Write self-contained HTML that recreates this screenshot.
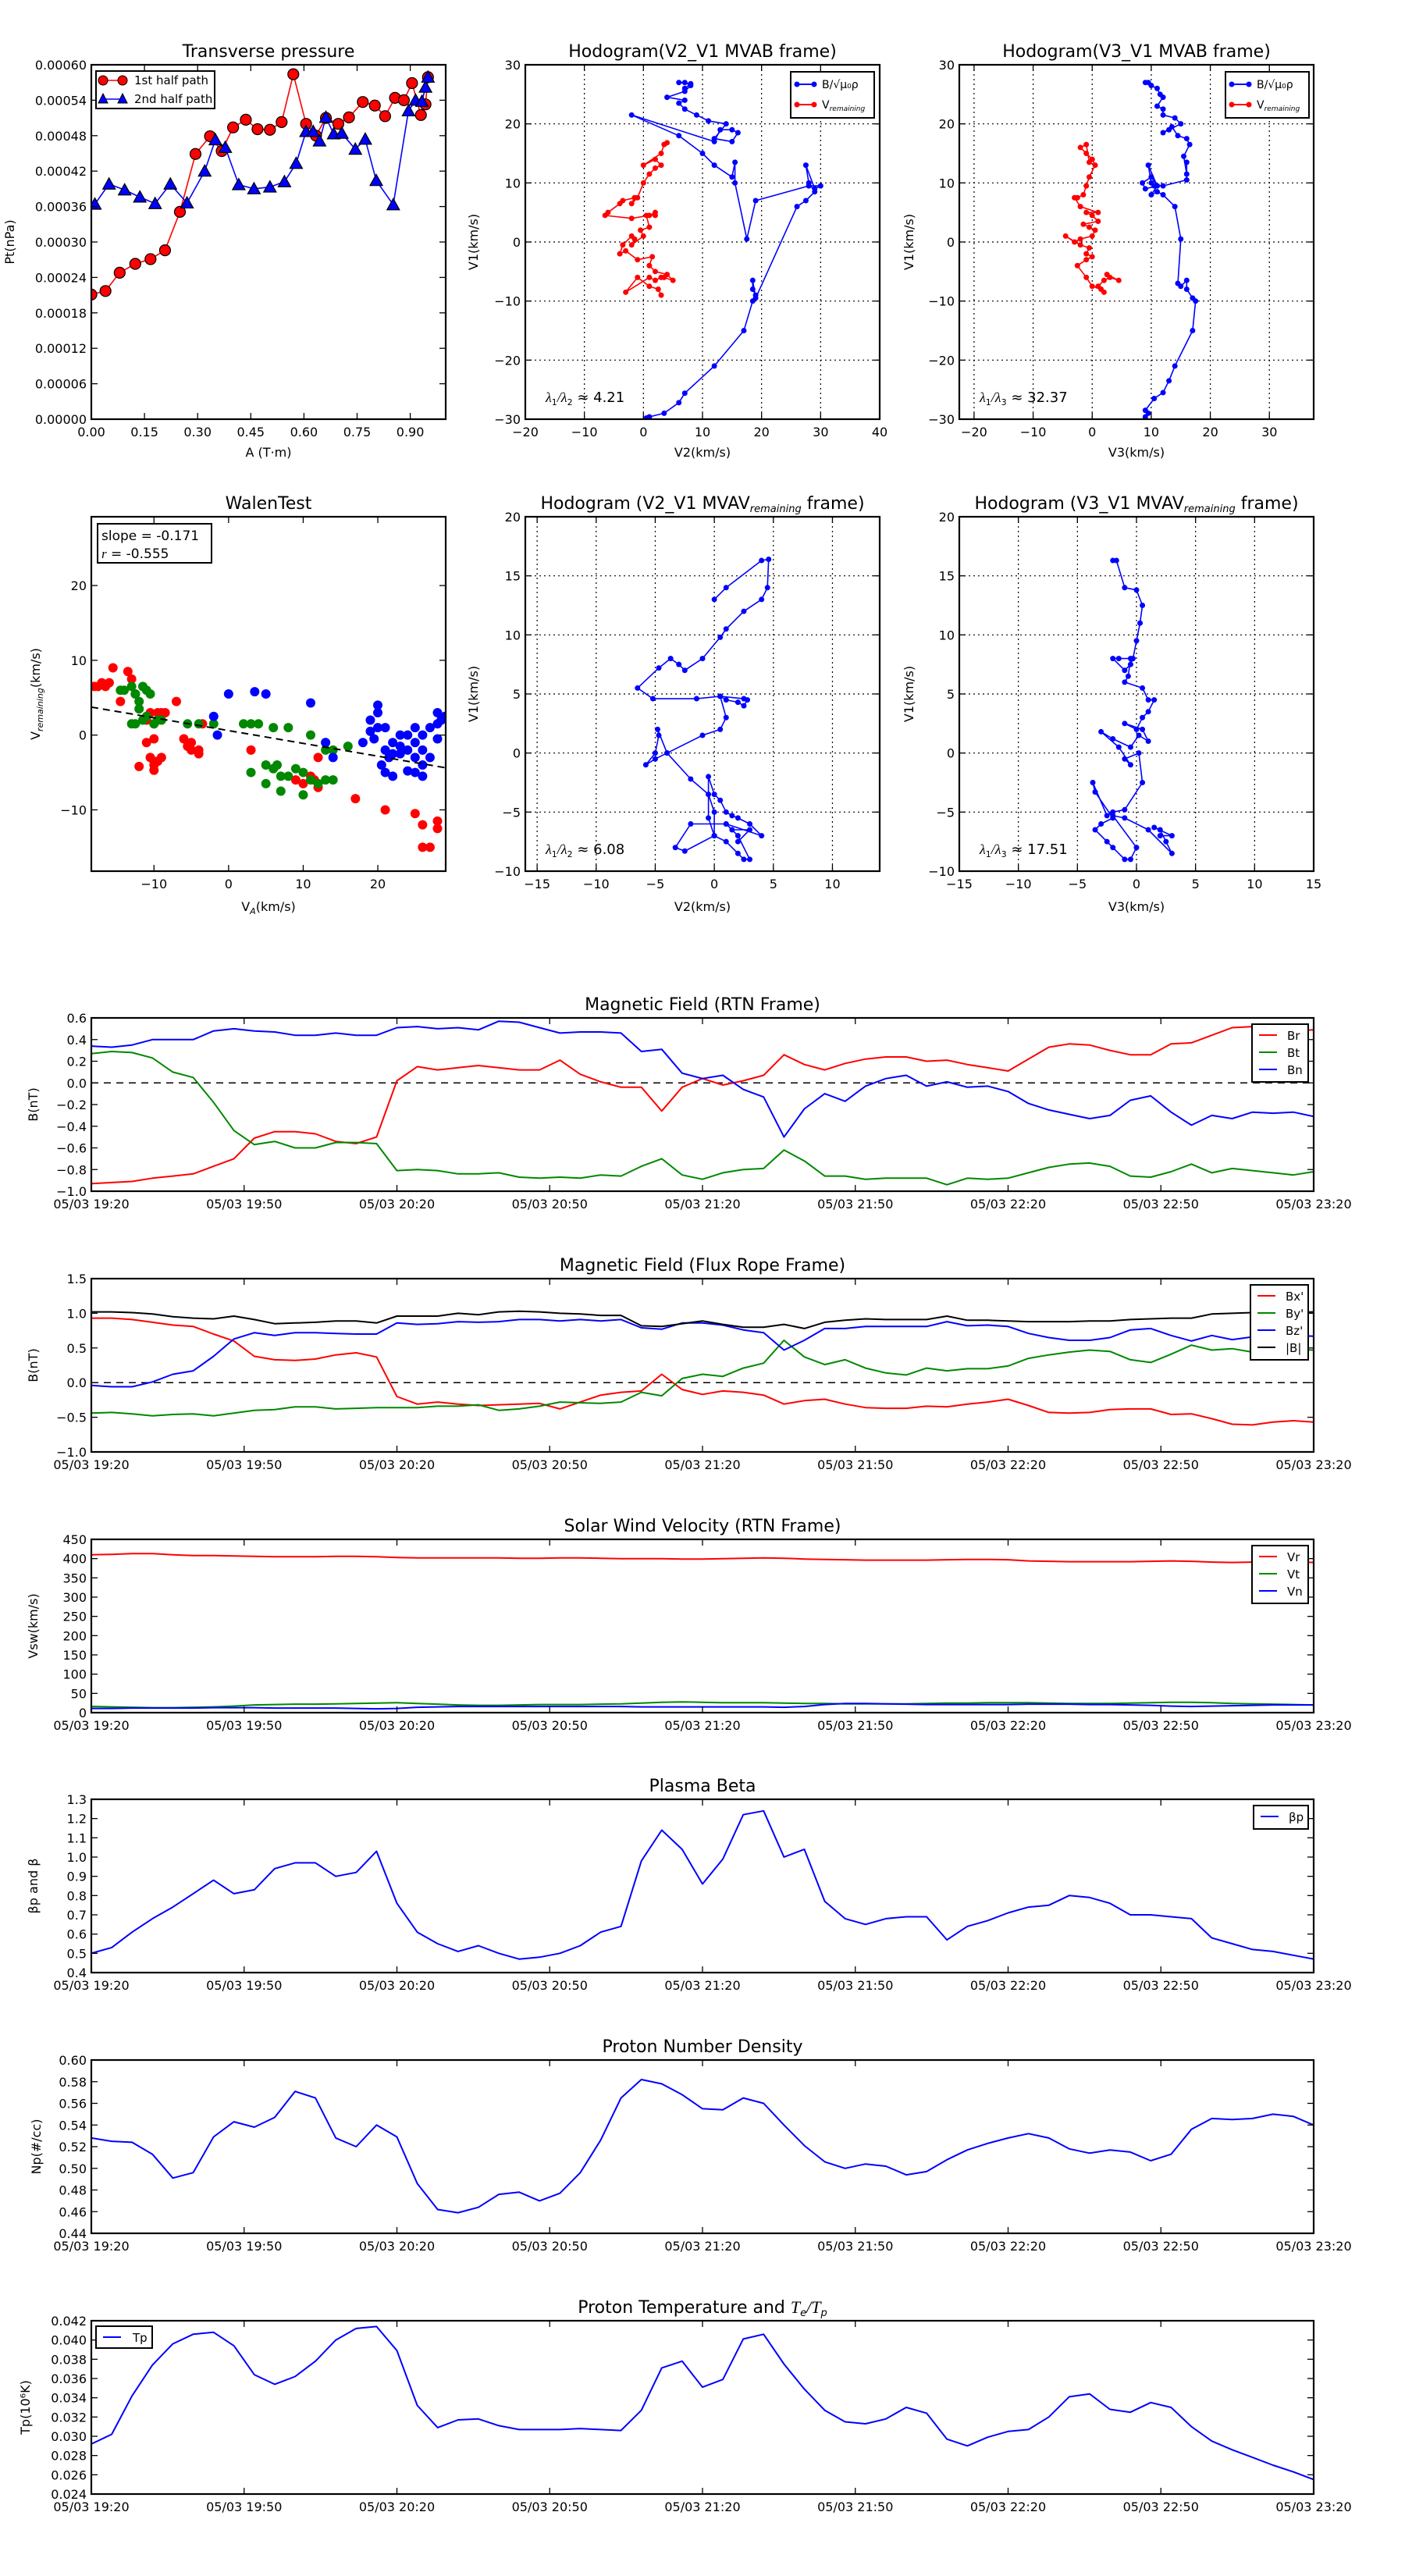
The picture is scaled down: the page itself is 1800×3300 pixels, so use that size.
<!DOCTYPE html>
<html><head><meta charset="utf-8"><style>
body{margin:0;background:#fff}
svg{display:block;font-family:"DejaVu Sans","Liberation Sans",sans-serif}
</style></head><body>
<svg id="fig" xmlns="http://www.w3.org/2000/svg" width="1800" height="3300" viewBox="0 0 1800 3300"></svg>
<script>
// ---------- data ----------
const ptA1=[0,0.04,0.08,0.124,0.167,0.208,0.25,0.294,0.335,0.368,0.40,0.436,0.469,0.504,0.537,0.57,0.606,0.634,0.662,0.697,0.727,0.766,0.80,0.829,0.857,0.882,0.905,0.93,0.943,0.95];
const ptP1=[0.000211,0.000217,0.000248,0.000263,0.000271,0.000286,0.000351,0.000449,0.000479,0.000454,0.000494,0.000507,0.000491,0.000490,0.000503,0.000584,0.0005,0.00048,0.00051,0.0005,0.000511,0.000537,0.000531,0.000513,0.000544,0.00054,0.000569,0.000515,0.000533,0.000579];
const ptA2=[0.01,0.05,0.094,0.137,0.18,0.223,0.27,0.32,0.35,0.378,0.416,0.459,0.504,0.545,0.578,0.606,0.626,0.644,0.662,0.684,0.707,0.745,0.773,0.804,0.852,0.895,0.915,0.933,0.943,0.95];
const ptP2=[0.000364,0.000398,0.000388,0.000376,0.000365,0.000398,0.000366,0.00042,0.000473,0.00046,0.000397,0.00039,0.000393,0.000402,0.000433,0.000487,0.000487,0.000471,0.000511,0.000483,0.000484,0.000457,0.000474,0.000404,0.000363,0.000522,0.00054,0.000538,0.000562,0.000579];

const h2bx=[0.5,1,3.5,6,7,12,17,18.5,19,18.5,18.5,19,26,27.5,29,28,27.5,29,30,28,19,17.5,15.5,15.5,15,12,10,6,-2,12,13,15,16,15,12,14,11,9,7,6,7,4,7,8,7,6,8,7];
const h2by=[-29.8,-29.6,-29,-27.2,-25.6,-21,-15,-10,-9,-8,-6.5,-9.5,6,7,8.5,10,13,9,9.5,9.5,7,0.5,10,13.5,11,13,15,18,21.5,17,19,19,18.5,17,17.5,20,20.5,21.5,22.5,23.5,24,24.5,25.5,26.5,27,27,26.8,26];
const h2rx=[3,2.5,1,-1,-3,1,2,3,3.5,5,4,2,1,1.5,-1,-3,-4,-3.5,-2,-1.5,-2,0,-0.5,1,0.5,2,2,1,-2,-6.5,-6,-4,-3.5,-1.5,-2,-1,0,1,2,3,2,0,3,3.5,4];
const h2ry=[-9,-8,-7.5,-6,-8.5,-6,-6.5,-6,-6,-6.5,-5.5,-5,-4,-2.5,-3,-1.5,-2,-0.5,1,0.5,-0.5,1,2,2.5,4.5,4.5,5,4.5,4,4.5,5,6.5,7,7.5,6.5,7.5,10,11.5,12.5,13,14,13,15,16.5,16.8];

const h3bx=[9,9.5,9,10.5,12,13,14,17,17.5,17,16,16,15,14.5,15,14,12,11,10,11,9,8.5,10,11,9.5,10,10.5,12,16,16,16,15.5,16.5,16,14.5,13.5,12,13,15,14,12,12,11,12,11.5,11,10,9,9.5];
const h3by=[-29.6,-29,-28.5,-26.5,-25.5,-23.5,-21,-15,-10,-9.5,-8,-6.5,-7.5,-7,0.5,6,8,8.5,8,9.5,9,10,11,9.5,13,10,9.5,9.5,10.5,13.5,11.5,14.5,16.5,17.5,18,19.5,18.5,19,20,21,21.5,22.5,23,24.5,25,26,26.5,27,27];
const h3rx=[2,1.5,0,-1,-2.5,-1,0,-1,-0.5,-2,-4.5,-3,-2,0,0.5,-0.5,-1.5,1,0,-1,1,-2,-3,-2.5,-1.5,-1,-0.5,0.5,0,-1,-2,-1,-0.5];
const h3ry=[-8.5,-8,-7.5,-6,-4,-3,-2.5,-2,-1,-0.5,1,0,0.5,1,2,2.5,3,3.5,4.5,5,5,6,7.5,7.5,8,9.5,11,13,14,15,16,16.5,13.5];
const h3rx2=[1,2,3,4.5,2.5];
const h3ry2=[-7.5,-6.5,-6,-6.5,-5.5];

const wRx=[-17.5,-17,-16.5,-16,-15.5,-18,-14.5,-13.5,-13,-12.5,-11,-10.5,-10,-9.5,-9,-8.5,-7,-10,-11,-10.5,-10,-10,-9.5,-9,-10,-12,-6,-5.5,-5,-4,-3.5,-5,-4,9,10,11,12,12,11.5,17,21,25,26,28,28,26,27,3];
const wRy=[6.5,7,6.5,7,9,6.5,4.5,8.5,7.5,5.5,2,3,1.5,3,3,3,4.5,-0.5,-1,-3,-3.5,-4,-3.5,-3,-4.7,-4.2,-0.5,-1.5,-1,-2,1.5,-2,-2.5,-6,-6.5,-5.5,-3,-7,-6,-8.5,-10,-10.5,-12,-11.5,-12.5,-15,-15,-2];
const wGx=[-14.5,-14,-13,-12.5,-12,-11.5,-11,-10.5,-12,-11.5,-12.5,-11,-10,-9.5,-9,-13,-5.5,-4,-2,2,3,4,6,8,11,13,14,16,3,5,6,6.5,7,8,9,10,11,12,13,14,5,7,10,13];
const wGy=[6,6,6.5,5.5,4.5,6.5,6,5.5,3.5,2,1.5,2.5,1.5,2,2,1.5,1.5,1.5,1.5,1.5,1.5,1.5,1,1,0,-1,-2,-1.5,-5,-4,-4.5,-4,-5.5,-5.5,-4.5,-5,-6,-6.5,-6,-6,-6.5,-7.5,-8,-2];
const wBx=[-1.5,-2,0,3.5,5,11,13,14,18,19,19,20,20,20,21,19.5,21,22,21.5,20.5,21,22,23,23,24,24,25,25,25,26,26,26,25,26,27,27,28,28,28.5,29,28,23,24,22];
const wBy=[0,2.5,5.5,5.8,5.5,4.3,-1,-3,-1,2,0.5,1,3,4,1,-0.5,-2,-1,-3,-4,-5,-5.5,0,-1.5,-2,0,-1,1,-3,-2,0,-4,-5,-5.5,-3,1,3,1.5,2,2.5,-0.5,-2.5,-4.8,-2.5];
const walenSlope=-0.171, walenIntercept=0.6;

const v2x=[0,1,4,4.6,4.5,4,2.5,1,0.5,-1,-2.5,-3,-3.7,-4.7,-6.5,-5.2,-1.5,0.5,2.5,2.8,2.5,2,1,0.5,1,0.5,-1,-4,-5,-5.8,-5,-4.7,-4.8,-4,-2,-0.5,0,0,-0.5,-0.5,0,0.5,1,1.5,2,3,4,1,-2,-3.3,-2.5,0,1,2,2.5,3,2,1,1.5,3,2];
const v2y=[13,14,16.3,16.4,14,13,12,10.5,9.8,8,7,7.5,8,7.2,5.5,4.6,4.6,4.8,4.6,4.5,4,4.3,4.5,4.8,3,2,1.5,0,-0.5,-1,0,1.5,2,0,-2.2,-3.5,-5,-7,-5.5,-2,-3.5,-4,-5,-5.3,-5.5,-6,-7,-6,-6,-8,-8.3,-7,-7.5,-8.5,-9,-9,-7,-6,-6.5,-6.5,-7.5];
const v3x=[-2,-1.7,-1,0,0.5,0.3,0,-0.3,-0.5,-1,-2,-1.5,-0.5,-0.7,-1,0.5,1,1.5,1,0.5,0,-1,0.5,1,0.2,-0.5,-2,-3,-1.5,-0.5,-1,0.2,0.5,-1,-2,-2.5,-3.7,-3.5,-2,-3,-3.5,-2.5,-2,-1,-0.5,0,-2,-1,1,3,2.5,2,1.5,3,2];
const v3y=[16.3,16.3,14,13.8,12.5,11,9.5,8,7.5,7,8,8,8,6.5,6,5.5,4.5,4.5,3.5,3,2,2.5,2,1,1.5,0.5,1.2,1.8,0.5,-1,-0.5,0,-2.5,-4.8,-5,-5.3,-2.5,-3.3,-5.5,-6,-6.5,-7.5,-8,-9,-9,-8,-5.3,-5.5,-6.5,-8.5,-7.5,-6.5,-6.3,-7,-7];

const tsBr=[-0.93,-0.92,-0.91,-0.88,-0.86,-0.84,-0.77,-0.70,-0.51,-0.45,-0.45,-0.47,-0.54,-0.56,-0.50,0.02,0.15,0.12,0.14,0.16,0.14,0.12,0.12,0.21,0.08,0.01,-0.04,-0.04,-0.26,-0.04,0.04,-0.02,0.02,0.07,0.26,0.17,0.12,0.18,0.22,0.24,0.24,0.20,0.21,0.17,0.14,0.11,0.22,0.33,0.36,0.35,0.30,0.26,0.26,0.36,0.37,0.44,0.51,0.52,0.51,0.48,0.49];
const tsBt=[0.27,0.29,0.28,0.23,0.10,0.05,-0.18,-0.44,-0.57,-0.54,-0.60,-0.60,-0.55,-0.55,-0.56,-0.81,-0.80,-0.81,-0.84,-0.84,-0.83,-0.87,-0.88,-0.87,-0.88,-0.85,-0.86,-0.77,-0.70,-0.85,-0.89,-0.83,-0.80,-0.79,-0.62,-0.72,-0.86,-0.86,-0.89,-0.88,-0.88,-0.88,-0.94,-0.88,-0.89,-0.88,-0.83,-0.78,-0.75,-0.74,-0.77,-0.86,-0.87,-0.82,-0.75,-0.83,-0.79,-0.81,-0.83,-0.85,-0.82];
const tsBn=[0.34,0.33,0.35,0.40,0.40,0.40,0.48,0.50,0.48,0.47,0.44,0.44,0.46,0.44,0.44,0.51,0.52,0.50,0.51,0.49,0.57,0.56,0.51,0.46,0.47,0.47,0.46,0.29,0.31,0.09,0.04,0.07,-0.06,-0.13,-0.50,-0.24,-0.10,-0.17,-0.03,0.04,0.07,-0.03,0.01,-0.04,-0.03,-0.08,-0.19,-0.25,-0.29,-0.33,-0.30,-0.16,-0.12,-0.27,-0.39,-0.30,-0.33,-0.27,-0.28,-0.27,-0.31];
const frBx=[0.93,0.93,0.91,0.87,0.83,0.81,0.70,0.60,0.38,0.33,0.32,0.34,0.40,0.43,0.37,-0.20,-0.31,-0.28,-0.31,-0.33,-0.32,-0.31,-0.30,-0.38,-0.28,-0.18,-0.14,-0.12,0.12,-0.10,-0.17,-0.12,-0.14,-0.18,-0.31,-0.26,-0.24,-0.31,-0.36,-0.37,-0.37,-0.34,-0.35,-0.31,-0.28,-0.24,-0.33,-0.43,-0.44,-0.43,-0.39,-0.38,-0.38,-0.46,-0.45,-0.52,-0.60,-0.61,-0.57,-0.55,-0.57];
const frBy=[-0.44,-0.43,-0.45,-0.48,-0.46,-0.45,-0.48,-0.44,-0.40,-0.39,-0.35,-0.35,-0.38,-0.37,-0.36,-0.36,-0.36,-0.34,-0.34,-0.32,-0.40,-0.38,-0.34,-0.28,-0.29,-0.30,-0.28,-0.14,-0.19,0.06,0.12,0.09,0.21,0.28,0.61,0.37,0.26,0.33,0.21,0.14,0.11,0.21,0.17,0.20,0.20,0.24,0.35,0.40,0.44,0.47,0.45,0.33,0.29,0.41,0.54,0.47,0.49,0.44,0.46,0.48,0.47];
const frBz=[-0.04,-0.06,-0.06,0.01,0.12,0.17,0.38,0.63,0.72,0.68,0.72,0.72,0.71,0.70,0.70,0.86,0.84,0.85,0.88,0.87,0.88,0.91,0.91,0.89,0.91,0.89,0.91,0.79,0.77,0.86,0.86,0.83,0.76,0.72,0.47,0.61,0.78,0.78,0.81,0.81,0.81,0.81,0.88,0.82,0.83,0.81,0.71,0.65,0.61,0.61,0.65,0.76,0.78,0.68,0.60,0.68,0.62,0.66,0.66,0.68,0.67];
const frB=[1.02,1.02,1.01,0.99,0.95,0.93,0.92,0.96,0.91,0.85,0.86,0.87,0.89,0.89,0.86,0.96,0.96,0.96,1.00,0.98,1.02,1.03,1.02,1.00,0.99,0.97,0.97,0.82,0.81,0.85,0.89,0.84,0.80,0.80,0.84,0.78,0.87,0.90,0.92,0.91,0.91,0.91,0.96,0.90,0.90,0.89,0.88,0.88,0.88,0.89,0.89,0.91,0.92,0.93,0.93,0.99,1.00,1.01,1.01,1.01,1.02];
const vVr=[410,411,413,413,410,408,408,407,406,405,405,405,406,406,405,403,402,402,402,402,402,401,401,402,402,401,400,400,400,399,399,400,401,402,401,399,398,397,396,396,396,396,397,398,398,397,394,393,392,392,392,392,393,394,393,391,390,391,392,392,390];
const vVt=[16,15,14,13,13,14,15,17,20,21,22,22,23,24,25,26,24,22,20,19,19,20,21,21,21,22,23,25,27,28,27,26,26,26,25,24,24,23,23,23,23,24,25,25,26,26,26,25,24,24,24,25,26,27,27,26,24,23,22,21,20];
const vVn=[11,11,12,12,12,12,13,13,13,12,12,12,12,11,10,11,14,15,16,16,16,16,16,16,16,16,16,15,15,15,15,15,15,15,14,16,21,24,24,23,22,21,21,21,21,21,22,22,22,21,21,20,19,17,16,17,18,19,20,20,20];
const betaP=[0.50,0.53,0.61,0.68,0.74,0.81,0.88,0.81,0.83,0.94,0.97,0.97,0.90,0.92,1.03,0.76,0.61,0.55,0.51,0.54,0.50,0.47,0.48,0.50,0.54,0.61,0.64,0.98,1.14,1.04,0.86,0.99,1.22,1.24,1.00,1.04,0.77,0.68,0.65,0.68,0.69,0.69,0.57,0.64,0.67,0.71,0.74,0.75,0.80,0.79,0.76,0.70,0.70,0.69,0.68,0.58,0.55,0.52,0.51,0.49,0.47];
const npD=[0.528,0.525,0.524,0.513,0.491,0.496,0.529,0.543,0.538,0.547,0.571,0.565,0.528,0.520,0.540,0.529,0.486,0.462,0.459,0.464,0.476,0.478,0.470,0.477,0.496,0.526,0.565,0.582,0.578,0.568,0.555,0.554,0.565,0.560,0.540,0.521,0.506,0.500,0.504,0.502,0.494,0.497,0.508,0.517,0.523,0.528,0.532,0.528,0.518,0.514,0.517,0.515,0.507,0.513,0.536,0.546,0.545,0.546,0.550,0.548,0.540];
const tpT=[0.0292,0.0302,0.0342,0.0374,0.0396,0.0406,0.0408,0.0394,0.0364,0.0354,0.0362,0.0378,0.0400,0.0412,0.0414,0.0389,0.0332,0.0309,0.0317,0.0318,0.0311,0.0307,0.0307,0.0307,0.0308,0.0307,0.0306,0.0327,0.0371,0.0378,0.0351,0.0359,0.0401,0.0406,0.0375,0.0349,0.0327,0.0315,0.0313,0.0318,0.0330,0.0324,0.0297,0.0290,0.0299,0.0305,0.0307,0.0320,0.0341,0.0344,0.0328,0.0325,0.0335,0.0330,0.0310,0.0295,0.0286,0.0278,0.0270,0.0263,0.0255];
const timeTicks=["05/03 19:20","05/03 19:50","05/03 20:20","05/03 20:50","05/03 21:20","05/03 21:50","05/03 22:20","05/03 22:50","05/03 23:20"];

// ---------- helpers ----------
const NS='http://www.w3.org/2000/svg';
const svg=document.getElementById('fig');
function mk(tag,attrs,parent){const e=document.createElementNS(NS,tag);for(const k in attrs)e.setAttribute(k,attrs[k]);(parent||svg).appendChild(e);return e;}
function nm(e,n){


return e;}
function txt(s,x,y,opt,parent){const t=mk('text',Object.assign({x:x,y:y,'font-size':16,fill:'#000'},opt||{}),parent);t.textContent=s;return t;}
function fmtNum(v,d){const s=Math.abs(v).toFixed(d);return (v<-1e-12?'\u2212':'')+s;}

function axes(name,x0,y0,w,h,xl,yl){
  const g=nm(mk('g',{}),name);
  const sx=v=>x0+(v-xl[0])/(xl[1]-xl[0])*w;
  const sy=v=>y0+h-(v-yl[0])/(yl[1]-yl[0])*h;
  const clipId='c'+name;
  const cp=mk('clipPath',{id:clipId},g);mk('rect',{x:x0,y:y0,width:w,height:h},cp);
  const plot=nm(mk('g',{'clip-path':'url(#'+clipId+')'},g),name+'-plot-area');
  return {g,plot,sx,sy,x0,y0,w,h};
}
function frame(A){const r=mk('rect',{x:A.x0,y:A.y0,width:A.w,height:A.h,fill:'none',stroke:'#000','stroke-width':2.2},A.g);nm(r,'axes-frame');}
function xticks(A,vals,labels,grid,ly){
  vals.forEach((v,i)=>{const x=A.sx(v);
    if(grid){const gl=mk('line',{x1:x,x2:x,y1:A.y0,y2:A.y0+A.h,stroke:'#000','stroke-width':1.2,'stroke-dasharray':'2,4'},A.plot);nm(gl,'x-grid-line');}
    mk('line',{x1:x,x2:x,y1:A.y0+A.h,y2:A.y0+A.h-8,stroke:'#000','stroke-width':1.3},A.g);
    mk('line',{x1:x,x2:x,y1:A.y0,y2:A.y0+8,stroke:'#000','stroke-width':1.3},A.g);
    const t=txt(labels[i],x,ly||A.y0+A.h+22,{'text-anchor':'middle'},A.g);nm(t,'x-tick-label');});
}
function yticks(A,vals,labels,grid){
  vals.forEach((v,i)=>{const y=A.sy(v);
    if(grid){const gl=mk('line',{x1:A.x0,x2:A.x0+A.w,y1:y,y2:y,stroke:'#000','stroke-width':1.2,'stroke-dasharray':'2,4'},A.plot);nm(gl,'y-grid-line');}
    mk('line',{x1:A.x0,x2:A.x0+8,y1:y,y2:y,stroke:'#000','stroke-width':1.3},A.g);
    mk('line',{x1:A.x0+A.w,x2:A.x0+A.w-8,y1:y,y2:y,stroke:'#000','stroke-width':1.3},A.g);
    const t=txt(labels[i],A.x0-6,y+6,{'text-anchor':'end'},A.g);nm(t,'y-tick-label');});
}
function title(A,s,name){const t=txt(s,A.x0+A.w/2,A.y0-10,{'text-anchor':'middle','font-size':22},A.g);nm(t,name||'chart-title');return t;}
function ylabel(A,s,x,name){const t=txt(s,x,A.y0+A.h/2,{'text-anchor':'middle','font-size':16,transform:'rotate(-90 '+x+' '+(A.y0+A.h/2)+')'},A.g);nm(t,name||'y-axis-title');return t;}
function xlabel(A,s,y,name){const t=txt(s,A.x0+A.w/2,y,{'text-anchor':'middle','font-size':16},A.g);nm(t,name||'x-axis-title');return t;}
function line(A,xs,ys,color,name,sw){const d=xs.map((x,i)=>(i?'L':'M')+A.sx(x).toFixed(1)+','+A.sy(ys[i]).toFixed(1)).join('');const p=mk('path',{d:d,fill:'none',stroke:color,'stroke-width':sw||2,'stroke-linejoin':'round'},A.plot);nm(p,name);return p;}
function dots(A,xs,ys,color,r,name,stroke){xs.forEach((x,i)=>{const c=mk('circle',{cx:A.sx(x),cy:A.sy(ys[i]),r:r,fill:color,stroke:stroke||'none','stroke-width':1.2},A.plot);nm(c,name);});}
function tris(A,xs,ys,color,s,name){xs.forEach((x,i)=>{const X=A.sx(x),Y=A.sy(ys[i]);const p=mk('polygon',{points:`${X},${Y-s} ${X-s},${Y+s*0.8} ${X+s},${Y+s*0.8}`,fill:color,stroke:'#000','stroke-width':1.2},A.plot);nm(p,name);});}
function range(a,b,s){const r=[];for(let v=a;v<=b+1e-9;v+=s)r.push(+v.toFixed(6));return r;}
function legendBox(A,x,y,w,h,name){const r=mk('rect',{x:x,y:y,width:w,height:h,fill:'#fff',stroke:'#000','stroke-width':2},A.g);nm(r,name);}

// ---------- Transverse pressure ----------
(function(){
 const A=axes('transverse-pressure',117,83,454,454,[0,1],[0,0.0006]);
 line(A,ptA1,ptP1,'#f00','first-half-line',1.6);
 line(A,ptA2,ptP2,'#00f','second-half-line',1.6);
 dots(A,ptA1,ptP1,'#f00',7,'first-half-marker','#000');
 tris(A,ptA2,ptP2,'#00f',8,'second-half-marker');
 frame(A);
 const xv=range(0,0.9,0.15);xticks(A,xv,xv.map(v=>v.toFixed(2)));
 const yv=range(0,0.0006,0.00006);yticks(A,yv,yv.map(v=>v.toFixed(5)));
 title(A,'Transverse pressure','transverse-pressure-title');
 ylabel(A,'Pt(nPa)',18);xlabel(A,'A (T\u00b7m)',585);
 legendBox(A,123,91,152,48,'pt-legend');
 const l1=mk('line',{x1:132,x2:157,y1:103,y2:103,stroke:'#f00','stroke-width':1.6},A.g);nm(l1,'legend-line');
 [132,157].forEach(x=>{const c=mk('circle',{cx:x,cy:103,r:6,fill:'#f00',stroke:'#000'},A.g);nm(c,'legend-marker');});
 const l2=mk('line',{x1:132,x2:157,y1:127,y2:127,stroke:'#00f','stroke-width':1.6},A.g);nm(l2,'legend-line');
 [132,157].forEach(x=>{const p=mk('polygon',{points:`${x},${120} ${x-6},${132} ${x+6},${132}`,fill:'#00f',stroke:'#000'},A.g);nm(p,'legend-marker');});
 nm(txt('1st half path',172,108,{'font-size':15},A.g),'legend-entry');
 nm(txt('2nd half path',172,132,{'font-size':15},A.g),'legend-entry');
})();

// ---------- hodograms MVAB ----------
function hodoLegend(A,x,y){
 legendBox(A,x,y,107,59,'hodogram-legend');
 const l1=mk('line',{x1:x+8,x2:x+30,y1:y+16,y2:y+16,stroke:'#00f','stroke-width':2},A.g);nm(l1,'legend-line');
 const l2=mk('line',{x1:x+8,x2:x+30,y1:y+42,y2:y+42,stroke:'#f00','stroke-width':2},A.g);nm(l2,'legend-line');
 [x+8,x+30].forEach(cx=>{nm(mk('circle',{cx:cx,cy:y+16,r:3.5,fill:'#00f'},A.g),'legend-marker');nm(mk('circle',{cx:cx,cy:y+42,r:3.5,fill:'#f00'},A.g),'legend-marker');});
 nm(txt('B/\u221a\u03bc\u2080\u03c1',x+40,y+21,{'font-size':14},A.g),'legend-entry');
 const t=txt('V',x+40,y+47,{'font-size':14},A.g);nm(t,'legend-entry');
 const s=mk('tspan',{'font-size':9,'font-style':'italic',dy:3},t);s.textContent='remaining';
}
function ratioText(A,sub,val){const t=txt('',A.x0+26,A.y0+A.h-22,{'font-size':18},A.g);nm(t,'eigenvalue-ratio');
 const a=mk('tspan',{'font-family':'Liberation Serif, serif','font-style':'italic'},t);a.textContent='\u03bb';
 const b=mk('tspan',{'font-size':11,dy:4},t);b.textContent='1';
 const c=mk('tspan',{dy:-4,'font-family':'Liberation Serif, serif','font-style':'italic'},t);c.textContent='/\u03bb';
 const d=mk('tspan',{'font-size':11,dy:4},t);d.textContent=sub;
 const e=mk('tspan',{dy:-4},t);e.textContent=' \u2248 '+val;}
(function(){
 const A=axes('hodogram-v2-mvab',673,83,454,454,[-20,40],[-30,30]);
 const xv=range(-20,40,10),yv=range(-30,30,10);
 xticks(A,xv,xv.map(v=>fmtNum(v,0)),true);yticks(A,yv,yv.map(v=>fmtNum(v,0)),true);
 line(A,h2bx,h2by,'#00f','b-alfven-path',1.6);dots(A,h2bx,h2by,'#00f',3.5,'b-point');
 line(A,h2rx,h2ry,'#f00','v-remaining-path',1.6);dots(A,h2rx,h2ry,'#f00',3.5,'v-point');
 frame(A);title(A,'Hodogram(V2_V1 MVAB frame)','hodogram-v2-title');
 ylabel(A,'V1(km/s)',612);xlabel(A,'V2(km/s)',585);
 hodoLegend(A,1013,92);ratioText(A,'2','4.21');
})();
(function(){
 const A=axes('hodogram-v3-mvab',1229,83,454,454,[-22.5,37.5],[-30,30]);
 const xv=range(-20,30,10),yv=range(-30,30,10);
 xticks(A,xv,xv.map(v=>fmtNum(v,0)),true);yticks(A,yv,yv.map(v=>fmtNum(v,0)),true);
 line(A,h3bx,h3by,'#00f','b-alfven-path',1.6);dots(A,h3bx,h3by,'#00f',3.5,'b-point');
 line(A,h3rx,h3ry,'#f00','v-remaining-path',1.6);dots(A,h3rx,h3ry,'#f00',3.5,'v-point');
 line(A,h3rx2,h3ry2,'#f00','v-remaining-path',1.6);dots(A,h3rx2,h3ry2,'#f00',3.5,'v-point');
 frame(A);title(A,'Hodogram(V3_V1 MVAB frame)','hodogram-v3-title');
 ylabel(A,'V1(km/s)',1170);xlabel(A,'V3(km/s)',585);
 hodoLegend(A,1570,92);ratioText(A,'3','32.37');
})();

// ---------- Walen ----------
(function(){
 const A=axes('walen-test',117,662,454,454,[-18.4,29.1],[-18.2,29.2]);
 dots(A,wRx,wRy,'#f00',6,'walen-point-red');
 dots(A,wGx,wGy,'#080',6,'walen-point-green');
 dots(A,wBx,wBy,'#00f',6,'walen-point-blue');
 const xl=[-18.4,29.1];line(A,xl,xl.map(x=>walenSlope*x+walenIntercept),'#000','fit-line',2).setAttribute('stroke-dasharray','9,6');
 frame(A);
 const xv=[-10,0,10,20],yv=[-10,0,10,20];
 xticks(A,xv,xv.map(v=>fmtNum(v,0)));yticks(A,yv,yv.map(v=>fmtNum(v,0)));
 title(A,'WalenTest','walen-title');
 const yl=ylabel(A,'V',51);const s=mk('tspan',{'font-size':11,'font-style':'italic',dy:4},yl);s.textContent='remaining';const s2=mk('tspan',{dy:-4},yl);s2.textContent='(km/s)';
 const xlb=xlabel(A,'V',1167);const s3=mk('tspan',{'font-size':11,'font-style':'italic',dy:4},xlb);s3.textContent='A';const s4=mk('tspan',{dy:-4},xlb);s4.textContent='(km/s)';
 legendBox(A,125,671,146,50,'walen-stats-box');
 nm(txt('slope = -0.171',130,692,{'font-size':17},A.g),'slope-text');
 const r=txt('',130,715,{'font-size':17},A.g);nm(r,'r-text');const ri=mk('tspan',{'font-style':'italic','font-family':'Liberation Serif, serif'},r);ri.textContent='r';const rr=mk('tspan',{},r);rr.textContent=' = -0.555';
})();

// ---------- MVAV hodograms ----------
(function(){
 const A=axes('hodogram-v2-mvav',673,662,454,454,[-16,14],[-10,20]);
 const xv=range(-15,10,5),yv=range(-10,20,5);
 xticks(A,xv,xv.map(v=>fmtNum(v,0)),true);yticks(A,yv,yv.map(v=>fmtNum(v,0)),true);
 line(A,v2x,v2y,'#00f','mvav-v2-path',1.6);dots(A,v2x,v2y,'#00f',3.5,'mvav-point');
 frame(A);const t=title(A,'Hodogram (V2_V1 MVAV','hodogram-v2-mvav-title');
 const ts=mk('tspan',{'font-size':13,'font-style':'italic',dy:4},t);ts.textContent='remaining';const ts2=mk('tspan',{dy:-4},t);ts2.textContent=' frame)';
 ylabel(A,'V1(km/s)',612);xlabel(A,'V2(km/s)',1167);ratioText(A,'2','6.08');
})();
(function(){
 const A=axes('hodogram-v3-mvav',1229,662,454,454,[-15,15],[-10,20]);
 const xv=range(-15,15,5),yv=range(-10,20,5);
 xticks(A,xv,xv.map(v=>fmtNum(v,0)),true);yticks(A,yv,yv.map(v=>fmtNum(v,0)),true);
 line(A,v3x,v3y,'#00f','mvav-v3-path',1.6);dots(A,v3x,v3y,'#00f',3.5,'mvav-point');
 frame(A);const t=title(A,'Hodogram (V3_V1 MVAV','hodogram-v3-mvav-title');
 const ts=mk('tspan',{'font-size':13,'font-style':'italic',dy:4},t);ts.textContent='remaining';const ts2=mk('tspan',{dy:-4},t);ts2.textContent=' frame)';
 ylabel(A,'V1(km/s)',1170);xlabel(A,'V3(km/s)',1167);ratioText(A,'3','17.51');
})();

// ---------- time series ----------
function tsPanel(name,top,yl,yv,dec,ttl,ylab,ylx,series,zero,leg){
 const A=axes(name,117,top,1566,222,[0,240],yl);
 if(zero){const z=mk('line',{x1:A.x0,x2:A.x0+A.w,y1:A.sy(0),y2:A.sy(0),stroke:'#000','stroke-width':1.5,'stroke-dasharray':'9,7'},A.plot);nm(z,'zero-line');}
 series.forEach(s=>line(A,s.d.map((v,i)=>i*240/(s.d.length-1)),s.d,s.c,s.n,2));
 frame(A);
 xticks(A,range(0,240,30),timeTicks);
 yticks(A,yv,yv.map(v=>fmtNum(v,dec)));
 const t=title(A,ttl,name+'-title');
 ylabel(A,ylab,ylx);
 if(leg){const lh=22,h=series.length*lh+8;const lx=leg.x,ly=top+8;
  legendBox(A,lx,ly,leg.w,h,name+'-legend');
  series.forEach((s,i)=>{const y=ly+14+i*lh;nm(mk('line',{x1:lx+9,x2:lx+32,y1:y,y2:y,stroke:s.c,'stroke-width':2},A.g),'legend-line');
   nm(txt(s.label,lx+45,y+6,{'font-size':15},A.g),'legend-entry');});}
 return {A,t};
}
tsPanel('magnetic-field-rtn',1304,[-1,0.6],range(-1,0.6,0.2),1,'Magnetic Field (RTN Frame)','B(nT)',48,
 [{d:tsBr,c:'#f00',n:'br-line',label:'Br'},{d:tsBt,c:'#080',n:'bt-line',label:'Bt'},{d:tsBn,c:'#00f',n:'bn-line',label:'Bn'}],true,{x:1604,w:72});
tsPanel('magnetic-field-flux-rope',1638,[-1,1.5],range(-1,1.5,0.5),1,'Magnetic Field (Flux Rope Frame)','B(nT)',48,
 [{d:frBx,c:'#f00',n:'bx-line',label:"Bx'"},{d:frBy,c:'#080',n:'by-line',label:"By'"},{d:frBz,c:'#00f',n:'bz-line',label:"Bz'"},{d:frB,c:'#000',n:'btotal-line',label:'|B|'}],true,{x:1602,w:74});
tsPanel('solar-wind-velocity',1972,[0,450],range(0,450,50),0,'Solar Wind Velocity (RTN Frame)','Vsw(km/s)',48,
 [{d:vVr,c:'#f00',n:'vr-line',label:'Vr'},{d:vVt,c:'#080',n:'vt-line',label:'Vt'},{d:vVn,c:'#00f',n:'vn-line',label:'Vn'}],false,{x:1604,w:72});
(function(){const r=tsPanel('plasma-beta',2305,[0.4,1.3],range(0.4,1.3,0.1),1,'Plasma Beta','\u03b2p and \u03b2',48,
 [{d:betaP,c:'#00f',n:'beta-line',label:'\u03b2p'}],false,{x:1606,w:70});})();
tsPanel('proton-density',2639,[0.44,0.6],range(0.44,0.6,0.02),2,'Proton Number Density','Np(#/cc)',52,
 [{d:npD,c:'#00f',n:'density-line'}],false,null);
(function(){const r=tsPanel('proton-temperature',2973,[0.024,0.042],range(0.024,0.042,0.002),3,'Proton Temperature and ','Tp(10\u2076K)',38,
 [{d:tpT,c:'#00f',n:'temperature-line',label:'Tp'}],false,null);
 const s=mk('tspan',{'font-style':'italic','font-family':'Liberation Serif, serif'},r.t);s.textContent='T';
 const s1=mk('tspan',{'font-size':13,'font-style':'italic',dy:4},r.t);s1.textContent='e';
 const s2=mk('tspan',{dy:-4,'font-style':'italic','font-family':'Liberation Serif, serif'},r.t);s2.textContent='/T';
 const s3=mk('tspan',{'font-size':13,'font-style':'italic',dy:4},r.t);s3.textContent='p';
 const A=r.A;legendBox(A,123,2980,72,28,'temperature-legend');
 nm(mk('line',{x1:132,x2:155,y1:2994,y2:2994,stroke:'#00f','stroke-width':2},A.g),'legend-line');
 nm(txt('Tp',170,3000,{'font-size':15},A.g),'legend-entry');
})();
</script>
</body></html>
